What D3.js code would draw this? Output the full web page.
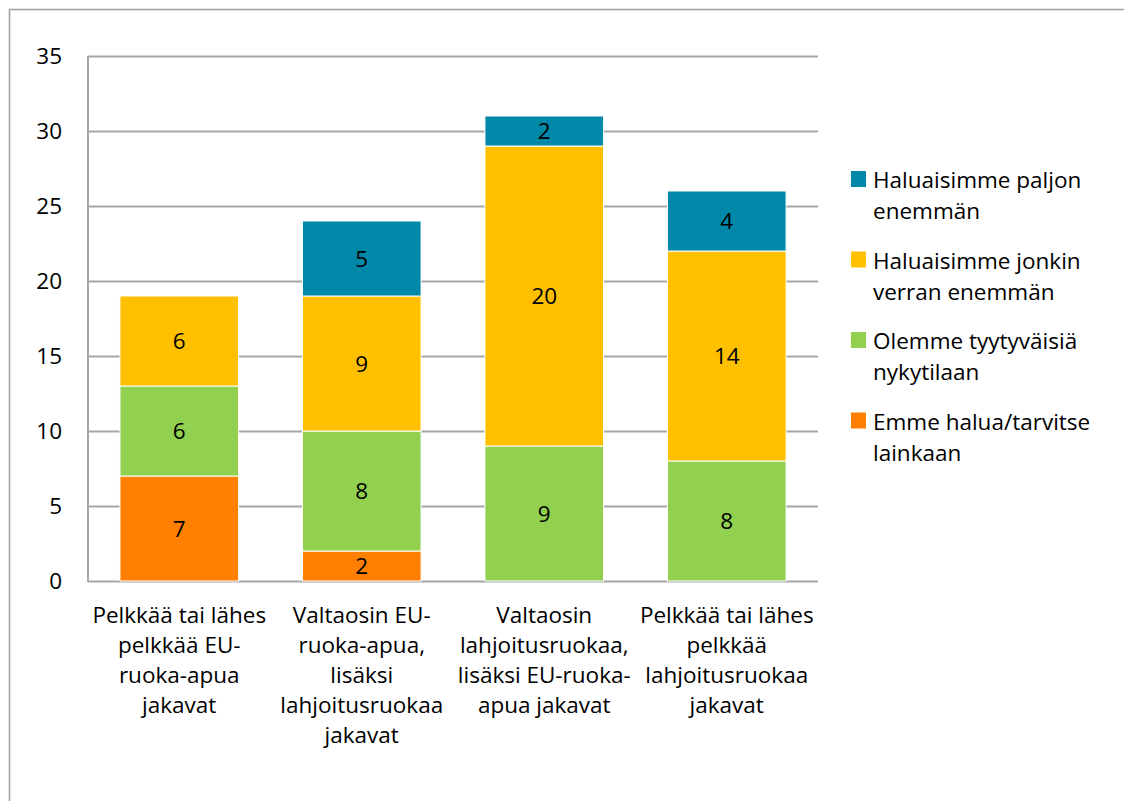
<!DOCTYPE html>
<html>
<head>
<meta charset="utf-8">
<script src="https://cdn.jsdelivr.net/npm/d3@7"></script>
<style>
  body { margin: 0; background: #fff; }
  text { font-family: "Open Sans", Lato, sans-serif; fill: #000; }
</style>
</head>
<body>
<div id="container"></div>
<script>
const w = 1124;
const h = 801;
const fontSize = 22.5;

// categories (each label split in lines as in the picture)
let categories = [
  ["Pelkkää tai lähes", "pelkkää EU-", "ruoka-apua", "jakavat"],
  ["Valtaosin EU-", "ruoka-apua,", "lisäksi", "lahjoitusruokaa", "jakavat"],
  ["Valtaosin", "lahjoitusruokaa,", "lisäksi EU-ruoka-", "apua jakavat"],
  ["Pelkkää tai lähes", "pelkkää", "lahjoitusruokaa", "jakavat"]
];

// series, bottom to top
let seriesNames = ["Emme halua/tarvitse lainkaan", "Olemme tyytyväisiä nykytilaan",
  "Haluaisimme jonkin verran enemmän", "Haluaisimme paljon enemmän"];
let emme = [7, 2, 0, 0];
let olemme = [6, 8, 9, 8];
let jonkin = [6, 9, 20, 14];
let paljon = [0, 5, 2, 4];
let colors = ["#FF8000", "#92D050", "#FFC000", "#0088A8"];

// legend (top to bottom) with its line breaks
let legendLines = [
  ["Haluaisimme paljon", "enemmän"],
  ["Haluaisimme jonkin", "verran enemmän"],
  ["Olemme tyytyväisiä", "nykytilaan"],
  ["Emme halua/tarvitse", "lainkaan"]
];
let legendColors = ["#0088A8", "#FFC000", "#92D050", "#FF8000"];

let yTicks = [0, 5, 10, 15, 20, 25, 30, 35];

// build rows for the stack
let rows = categories.map(function(c, i){
  return { idx: i, s0: emme[i], s1: olemme[i], s2: jonkin[i], s3: paljon[i] };
});
let stacked = d3.stack().keys(["s0", "s1", "s2", "s3"])(rows);

let svg = d3.select("#container").append("svg").attr("width", w).attr("height", h);

// outer frame
svg.append("rect")
  .attr("x", 9.5).attr("y", 9.5)
  .attr("width", w + 20).attr("height", h + 20)
  .attr("fill", "none").attr("stroke", "#a0a0a0").attr("stroke-width", 1.5);

let plotLeft = 88, plotRight = 818, plotTop = 56, plotBottom = 581;

let xScale = d3.scaleBand().domain(d3.range(categories.length)).range([plotLeft, plotRight]).paddingInner(0.35).paddingOuter(0.175);
let yScale = d3.scaleLinear().domain([0, 35]).range([plotBottom, plotTop]);

// gridlines
svg.append("g").selectAll("line").data(yTicks).enter().append("line")
  .attr("x1", plotLeft).attr("x2", plotRight)
  .attr("y1", function(d){ return yScale(d) + 0.5 })
  .attr("y2", function(d){ return yScale(d) + 0.5 })
  .attr("stroke", "#a6a6a6").attr("stroke-width", 2);

// y axis line
svg.append("line")
  .attr("x1", plotLeft).attr("x2", plotLeft)
  .attr("y1", plotTop).attr("y2", plotBottom + 1)
  .attr("stroke", "#a6a6a6").attr("stroke-width", 2);

// y tick labels
svg.append("g").selectAll("text").data(yTicks).enter().append("text")
  .attr("x", 62).attr("y", function(d){ return yScale(d) })
  .attr("dy", "0.36em")
  .attr("text-anchor", "end")
  .attr("font-size", fontSize)
  .text(function(d){ return d });

// bars
let layers = svg.append("g").selectAll("g").data(stacked).enter().append("g")
  .attr("fill", function(d, i){ return colors[i] });

layers.selectAll("rect").data(function(d){ return d }).enter().append("rect")
  .filter(function(d){ return d[1] - d[0] > 0 })
  .attr("x", function(d){ return xScale(d.data.idx) })
  .attr("y", function(d){ return yScale(d[1]) })
  .attr("width", xScale.bandwidth())
  .attr("height", function(d){ return yScale(d[0]) - yScale(d[1]) })
  .attr("stroke", "#fff").attr("stroke-width", 1);

// data labels
layers.selectAll("text").data(function(d){ return d }).enter().append("text")
  .filter(function(d){ return d[1] - d[0] > 0 })
  .attr("x", function(d){ return xScale(d.data.idx) + xScale.bandwidth() / 2 })
  .attr("y", function(d){ return (yScale(d[0]) + yScale(d[1])) / 2 })
  .attr("dy", "0.36em")
  .attr("text-anchor", "middle")
  .attr("font-size", fontSize)
  .style("fill", "#000")
  .text(function(d){ return d[1] - d[0] });

// category labels
let catG = svg.append("g").selectAll("text").data(categories).enter().append("text")
  .attr("text-anchor", "middle")
  .attr("font-size", fontSize)
  .attr("x", function(d, i){ return xScale(i) + xScale.bandwidth() / 2 })
  .attr("y", 623);
catG.selectAll("tspan").data(function(d){ return d }).enter().append("tspan")
  .attr("x", function(){ return d3.select(this.parentNode).attr("x") })
  .attr("dy", function(d, j){ return j == 0 ? 0 : 30 })
  .text(function(d){ return d });

// legend
let leg = svg.append("g").selectAll("g").data(legendLines).enter().append("g")
  .attr("transform", function(d, i){ return "translate(851," + (171 + i * 80.5) + ")" });
leg.append("rect").attr("width", 15).attr("height", 16)
  .attr("fill", function(d, i){ return legendColors[i] });
let legText = leg.append("text").attr("x", 22).attr("y", 17).attr("font-size", fontSize);
legText.selectAll("tspan").data(function(d){ return d }).enter().append("tspan")
  .attr("x", 22).attr("dy", function(d, j){ return j == 0 ? 0 : 31 })
  .text(function(d){ return d });
</script>
</body>
</html>
